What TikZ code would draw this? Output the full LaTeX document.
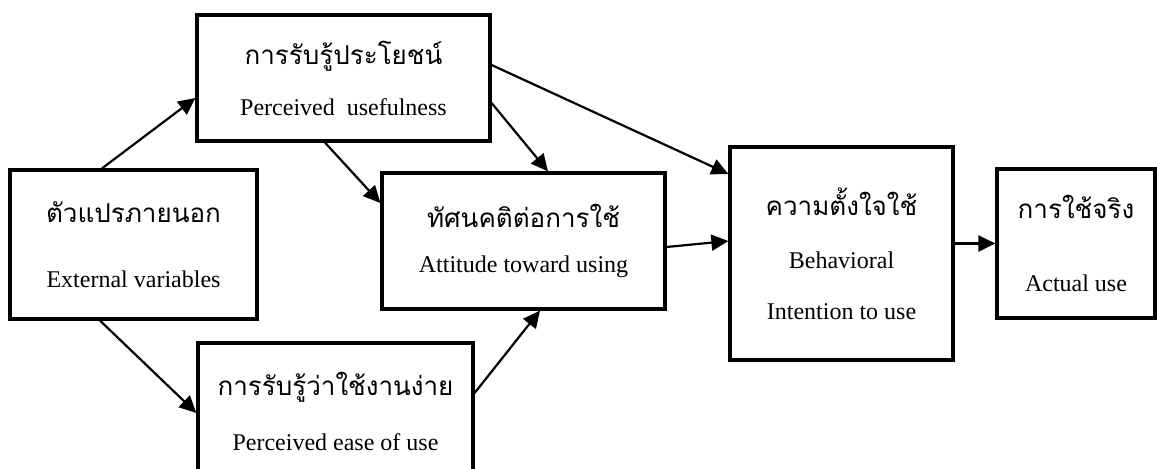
\documentclass[tikz,border=0pt]{standalone}
\usepackage{fontspec}
\setmainfont{Liberation Serif}
\newfontfamily\thaifont[Script=Thai]{Loma}
\usepackage{tikz}
\usetikzlibrary{arrows.meta,calc}

\tikzset{
  box/.style={draw, line width=1.6pt, align=center, inner sep=0pt,
    font=\fontsize{12}{14.5}\selectfont},
  link/.style={-{Triangle[length=8.5pt,width=8pt]}, line width=1.1pt},
}
\newcommand{\thtext}[1]{{\thaifont\fontsize{13}{15}\selectfont #1}}

\begin{document}
\begin{tikzpicture}[x=0.5pt, y=-0.5pt]
\useasboundingbox (0,0) rectangle (1157,469);

\node[box, minimum width=146.5pt, minimum height=63pt] (pu) at (343.5,78)
  {\thtext{การรับรู้ประโยชน์}\\[11pt] Perceived\ \ usefulness};
\node[box, minimum width=123.5pt, minimum height=74.5pt] (ext) at (133.5,244.5)
  {\thtext{ตัวแปรภายนอก}\\[18pt] External variables};
\node[box, minimum width=141.5pt, minimum height=68pt] (att) at (523.5,241)
  {\thtext{ทัศนคติต่อการใช้}\\[8pt] Attitude toward using};
\node[box, minimum width=137.5pt, minimum height=68.5pt] (peu) at (335.5,411.5)
  {\thtext{การรับรู้ว่าใช้งานง่าย}\\[13pt] Perceived ease of use};
\node[box, minimum width=111.5pt, minimum height=106.5pt] (bi) at (841.5,253.5)
  {\thtext{ความตั้งใจใช้}\\[12pt] Behavioral\\[11pt] Intention to use};
\node[box, minimum width=79pt, minimum height=74.5pt] (act) at (1076,243.5)
  {\thtext{การใช้จริง}\\[22pt] Actual use};

\path ([xshift=-15.75pt]ext.north) edge[link] ([yshift=-10pt]pu.west);
\path ([xshift=-16.75pt]ext.south) edge[link] ([yshift=-0.75pt]peu.west);
\path ([xshift=-9.25pt]pu.south) edge[link] ([yshift=19pt]att.west);
\path ([yshift=-12.5pt]pu.east) edge[link] ([xshift=12.25pt]att.north);
\path ([yshift=6.5pt]pu.east) edge[link] ([yshift=39.75pt]bi.west);
\path ([yshift=9.25pt]peu.east) edge[link] ([xshift=8.25pt]att.south);
\path ([yshift=-3pt]att.east) edge[link] ([yshift=6.25pt]bi.west);
\path (bi.east |- act.west) edge[link] (act.west);
\end{tikzpicture}
\end{document}
